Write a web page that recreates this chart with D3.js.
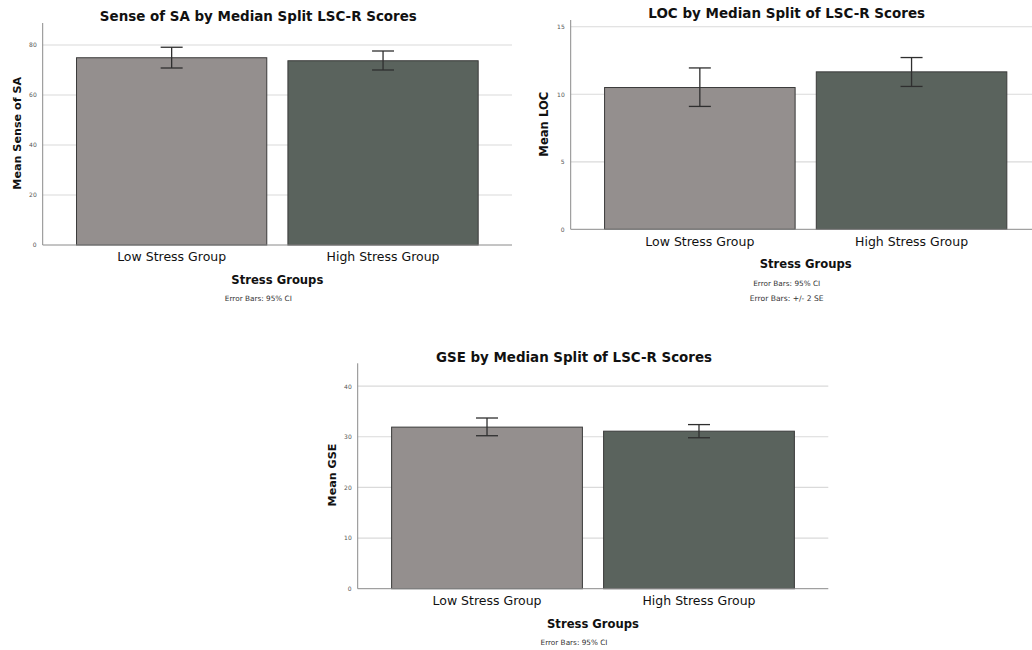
<!DOCTYPE html>
<html>
<head>
<meta charset="utf-8">
<script src="https://cdn.jsdelivr.net/npm/d3@7"></script>
<style>
  html, body { margin: 0; padding: 0; background: #fff; }
  svg { display: block; font-family: "DejaVu Sans", Verdana, sans-serif; }
</style>
</head>
<body>
<svg id="chart" width="1032" height="650"></svg>
<script>
// Group labels shared by all three panels
const groups = ["Low Stress Group", "High Stress Group"];

// Sense of SA: means and 95% CI limits
const saMeans = [74.9, 73.7];
const saLower = [70.8, 70.0];
const saUpper = [79.1, 77.6];
const saTicks = [0, 20, 40, 60, 80];

// LOC: means and error-bar limits
const locMeans = [10.5, 11.66];
const locLower = [9.1, 10.58];
const locUpper = [11.95, 12.72];
const locTicks = [0, 5, 10, 15];

// GSE: means and 95% CI limits
const gseMeans = [31.9, 31.1];
const gseLower = [30.2, 29.8];
const gseUpper = [33.7, 32.4];
const gseTicks = [0, 10, 20, 30, 40];

const barColors = ["#948f8e", "#5a635d"];

const svg = d3.select("#chart");

// Resize a text node's font so that it spans the given width
function fitWidth(sel, w) {
  const node = sel.node();
  const fs = parseFloat(sel.attr("font-size"));
  const len = node.getComputedTextLength();
  if (len > 0) sel.attr("font-size", (fs * w / len).toFixed(2));
  return sel;
}

function panel(cfg) {
  const g = svg.append("g");
  const x = d3.scaleBand()
    .domain(groups)
    .range([cfg.left, cfg.right])
    .paddingInner(0.1)
    .paddingOuter(0.16);
  const y = d3.scaleLinear()
    .domain([0, cfg.yMax])
    .range([cfg.base, cfg.top]);

  // horizontal gridlines
  g.append("g").selectAll("line")
    .data(cfg.ticks.filter(t => t > 0))
    .join("line")
    .attr("x1", cfg.left).attr("x2", cfg.right)
    .attr("y1", d => y(d)).attr("y2", d => y(d))
    .attr("stroke", "#dadada").attr("stroke-width", 1.2);

  // y axis: labels only, no tick marks
  const yAxis = g.append("g")
    .attr("transform", `translate(${cfg.left},0)`)
    .call(d3.axisLeft(y).tickValues(cfg.ticks).tickSize(0).tickPadding(6));
  yAxis.select(".domain").remove();
  yAxis.selectAll("text")
    .attr("font-size", 6).attr("fill", "#555")
    .attr("font-family", "DejaVu Sans, sans-serif");

  // bars
  g.append("g").selectAll("rect")
    .data(groups)
    .join("rect")
    .attr("x", d => x(d))
    .attr("width", x.bandwidth())
    .attr("y", (d, i) => y(cfg.means[i]))
    .attr("height", (d, i) => y(0) - y(cfg.means[i]))
    .attr("fill", (d, i) => barColors[i])
    .attr("stroke", "#3a3a3a").attr("stroke-width", 1);

  // error bars
  const eb = g.append("g").attr("stroke", "#2f2f2f").attr("stroke-width", 1.3).attr("fill", "none");
  const capHalf = 11;
  groups.forEach((d, i) => {
    const cx = x(d) + x.bandwidth() / 2;
    eb.append("line").attr("x1", cx).attr("x2", cx)
      .attr("y1", y(cfg.lower[i])).attr("y2", y(cfg.upper[i]));
    eb.append("line").attr("x1", cx - capHalf).attr("x2", cx + capHalf)
      .attr("y1", y(cfg.upper[i])).attr("y2", y(cfg.upper[i]));
    eb.append("line").attr("x1", cx - capHalf).attr("x2", cx + capHalf)
      .attr("y1", y(cfg.lower[i])).attr("y2", y(cfg.lower[i]));
  });

  // axis lines
  g.append("line").attr("x1", cfg.left).attr("x2", cfg.left)
    .attr("y1", cfg.top).attr("y2", cfg.base)
    .attr("stroke", "#8a8a8a").attr("stroke-width", 1);
  g.append("line").attr("x1", cfg.left).attr("x2", cfg.right)
    .attr("y1", cfg.base).attr("y2", cfg.base)
    .attr("stroke", "#8a8a8a").attr("stroke-width", 1);

  // category labels
  groups.forEach((d, i) => {
    const t = g.append("text")
      .attr("x", x(d) + x.bandwidth() / 2)
      .attr("y", cfg.catY)
      .attr("text-anchor", "middle")
      .attr("font-size", 12.4).attr("fill", "#111")
      .text(d);
    fitWidth(t, i === 0 ? 109 : 113);
  });

  const mid = (cfg.left + cfg.right) / 2;

  // x axis title
  fitWidth(g.append("text")
    .attr("x", mid).attr("y", cfg.xTitleY)
    .attr("text-anchor", "middle")
    .attr("font-size", 12).attr("font-weight", "bold").attr("fill", "#111")
    .text("Stress Groups"), 92);

  // y axis title
  fitWidth(g.append("text")
    .attr("transform", `translate(${cfg.yTitleX},${cfg.yTitleY}) rotate(-90)`)
    .attr("dy", "0.35em")
    .attr("text-anchor", "middle")
    .attr("font-size", 12).attr("font-weight", "bold").attr("fill", "#111")
    .text(cfg.yTitle), cfg.yTitleW);

  // chart title
  fitWidth(g.append("text")
    .attr("x", mid - 19).attr("y", cfg.titleY)
    .attr("text-anchor", "middle")
    .attr("font-size", 13).attr("font-weight", "bold").attr("fill", "#111")
    .text(cfg.title), cfg.titleW);

  // footnotes
  cfg.notes.forEach((n, k) => {
    fitWidth(g.append("text")
      .attr("x", mid - 19).attr("y", cfg.noteY + k * 14.7)
      .attr("text-anchor", "middle")
      .attr("font-size", 6).attr("fill", "#333")
      .text(n.text), n.w);
  });
}

panel({
  left: 42.7, right: 512, top: 23, base: 245, yMax: 88.8,
  means: saMeans, lower: saLower, upper: saUpper, ticks: saTicks,
  title: "Sense of SA by Median Split LSC-R Scores", titleW: 317, titleY: 20.5,
  yTitle: "Mean Sense of SA", yTitleW: 113, yTitleX: 17, yTitleY: 133.3,
  catY: 260.5, xTitleY: 284,
  notes: [{ text: "Error Bars: 95% CI", w: 67 }], noteY: 300.7
});

panel({
  left: 570.7, right: 1040.7, top: 20, base: 229.3, yMax: 15.5,
  means: locMeans, lower: locLower, upper: locUpper, ticks: locTicks,
  title: "LOC by Median Split of LSC-R Scores", titleW: 277, titleY: 18,
  yTitle: "Mean LOC", yTitleW: 65, yTitleX: 544, yTitleY: 124.2,
  catY: 245.5, xTitleY: 267.7,
  notes: [{ text: "Error Bars: 95% CI", w: 67 }, { text: "Error Bars: +/- 2 SE", w: 74 }], noteY: 286
});

panel({
  left: 357.7, right: 828.3, top: 363.3, base: 588.7, yMax: 44.5,
  means: gseMeans, lower: gseLower, upper: gseUpper, ticks: gseTicks,
  title: "GSE by Median Split of LSC-R Scores", titleW: 276, titleY: 361.5,
  yTitle: "Mean GSE", yTitleW: 63, yTitleX: 331.7, yTitleY: 475,
  catY: 605, xTitleY: 627.7,
  notes: [{ text: "Error Bars: 95% CI", w: 67 }], noteY: 645.3
});
</script>
</body>
</html>
